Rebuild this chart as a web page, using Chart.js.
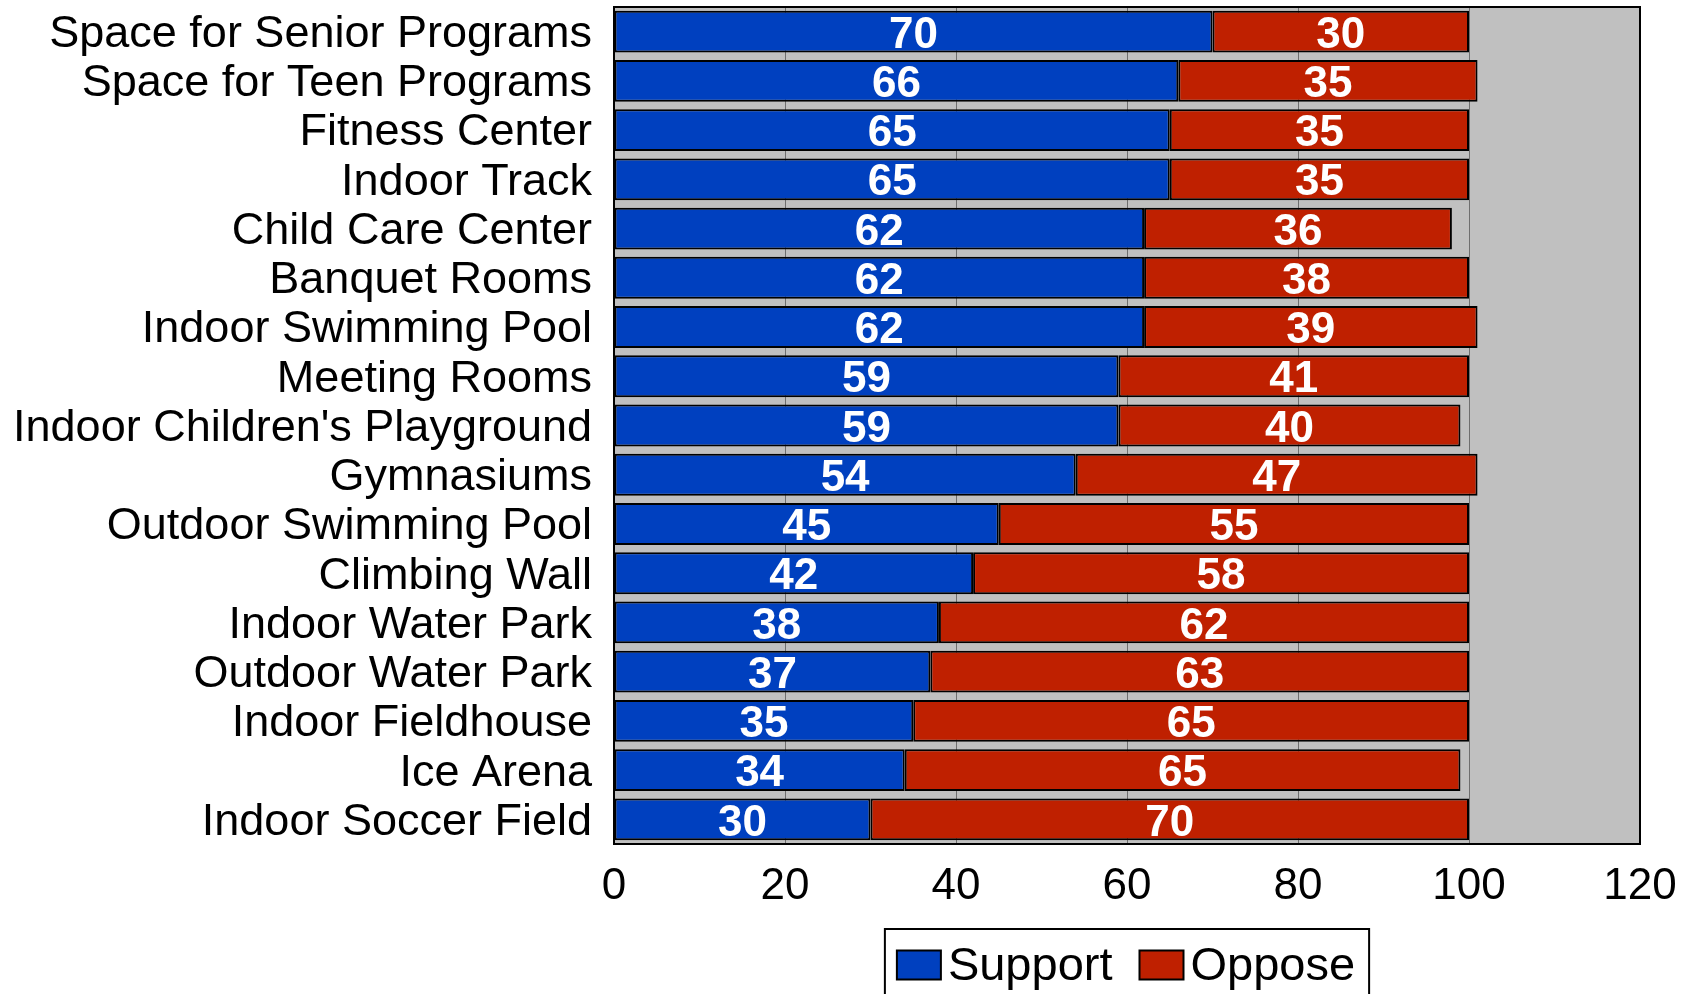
<!DOCTYPE html>
<html>
<head>
<meta charset="utf-8">
<script src="https://cdn.jsdelivr.net/npm/chart.js@4.4.1/dist/chart.umd.min.js"></script>
<style>
  html, body { margin: 0; padding: 0; background: #ffffff; }
  #wrap { width: 1696px; height: 994px; position: relative; }
</style>
</head>
<body>
<div id="wrap"><canvas id="c" width="1696" height="994"></canvas></div>
<script>
// Facility survey: share of respondents who support / oppose each facility
const categories = [
  "Space for Senior Programs",
  "Space for Teen Programs",
  "Fitness Center",
  "Indoor Track",
  "Child Care Center",
  "Banquet Rooms",
  "Indoor Swimming Pool",
  "Meeting Rooms",
  "Indoor Children's Playground",
  "Gymnasiums",
  "Outdoor Swimming Pool",
  "Climbing Wall",
  "Indoor Water Park",
  "Outdoor Water Park",
  "Indoor Fieldhouse",
  "Ice Arena",
  "Indoor Soccer Field"
];
const supportValues = [70, 66, 65, 65, 62, 62, 62, 59, 59, 54, 45, 42, 38, 37, 35, 34, 30];
const opposeValues  = [30, 35, 35, 35, 36, 38, 39, 41, 40, 47, 55, 58, 62, 63, 65, 65, 70];
const xTicks = [0, 20, 40, 60, 80, 100, 120];

const FONT = "'Liberation Sans', Arial, Helvetica, sans-serif";
const BLUE = "#0040BF";
const RED = "#BF2000";

// Grey plot background and black frame around the plotting area
const plotFrame = {
  id: 'plotFrame',
  beforeDraw(chart) {
    const a = chart.chartArea, ctx = chart.ctx;
    ctx.save();
    ctx.fillStyle = '#C0C0C0';
    ctx.fillRect(a.left, a.top, a.right - a.left, a.bottom - a.top);
    ctx.restore();
  },
  afterDraw(chart) {
    const a = chart.chartArea, ctx = chart.ctx;
    ctx.save();
    ctx.strokeStyle = '#000';
    ctx.lineWidth = 2;
    ctx.strokeRect(a.left, a.top, a.right - a.left, a.bottom - a.top);
    ctx.restore();
  }
};

// Value labels centred inside each bar segment
const segmentLabels = {
  id: 'segmentLabels',
  afterDatasetsDraw(chart) {
    const ctx = chart.ctx;
    ctx.save();
    ctx.fillStyle = '#fff';
    ctx.font = "bold 44px " + FONT;
    ctx.textAlign = 'center';
    ctx.textBaseline = 'middle';
    chart.data.datasets.forEach((ds, di) => {
      const meta = chart.getDatasetMeta(di);
      meta.data.forEach((bar, i) => {
        const p = bar.getProps(['x', 'y', 'base'], true);
        ctx.fillText(String(ds.data[i]), (p.x + p.base) / 2, p.y + 4);
      });
    });
    ctx.restore();
  }
};

// Boxed legend centred under the plotting area
const boxedLegend = {
  id: 'boxedLegend',
  afterDraw(chart) {
    const ctx = chart.ctx, a = chart.chartArea;
    ctx.save();
    ctx.font = "47px " + FONT;
    const sw = 44, sh = 29, swGap = 7, itemGap = 27, padL = 12, padR = 14;
    const items = chart.data.datasets.map(ds => ({ label: ds.label, color: ds.backgroundColor, w: ctx.measureText(ds.label).width }));
    let inner = 0;
    items.forEach((it, i) => { inner += sw + swGap + it.w + (i < items.length - 1 ? itemGap : 0); });
    const boxW = inner + padL + padR;
    const boxX = (a.left + a.right) / 2 - boxW / 2;
    const boxY = 929;
    ctx.strokeStyle = '#000';
    ctx.lineWidth = 2;
    ctx.strokeRect(boxX, boxY, boxW, 90);
    const cy = 965;
    let x = boxX + padL;
    ctx.textBaseline = 'middle';
    ctx.textAlign = 'left';
    items.forEach(it => {
      ctx.fillStyle = it.color;
      ctx.fillRect(x, cy - sh / 2, sw, sh);
      ctx.lineWidth = 2;
      ctx.strokeStyle = '#000';
      ctx.strokeRect(x, cy - sh / 2, sw, sh);
      x += sw + swGap;
      ctx.fillStyle = '#000';
      ctx.fillText(it.label, x, cy + 2);
      x += it.w + itemGap;
    });
    ctx.restore();
  }
};

new Chart(document.getElementById('c'), {
  type: 'bar',
  data: {
    labels: categories,
    datasets: [
      { label: 'Support', data: supportValues, backgroundColor: BLUE, borderColor: '#000', borderWidth: 2, borderSkipped: false },
      { label: 'Oppose', data: opposeValues, backgroundColor: RED, borderColor: '#000', borderWidth: 2, borderSkipped: false }
    ]
  },
  options: {
    indexAxis: 'y',
    responsive: false,
    animation: false,
    devicePixelRatio: 1,
    categoryPercentage: 1,
    barPercentage: 0.85,
    layout: { padding: { top: 7, right: 56, left: 0, bottom: 70 } },
    plugins: {
      legend: { display: false },
      tooltip: { enabled: false }
    },
    scales: {
      x: {
        stacked: true,
        min: 0,
        max: 120,
        afterBuildTicks(scale) { scale.ticks = xTicks.map(v => ({ value: v })); },
        afterFit(scale) { scale.height = 80; },
        grid: { color: '#6E6E6E', lineWidth: 1, drawTicks: false },
        border: { display: true, color: '#000', width: 2 },
        ticks: { color: '#000', font: { family: FONT, size: 44 }, padding: 16, maxRotation: 0, autoSkip: false }
      },
      y: {
        stacked: true,
        afterFit(scale) { scale.width = 614; scale.paddingTop = 0; scale.paddingBottom = 0; },
        grid: { display: false, drawTicks: false },
        border: { display: true, color: '#000', width: 2 },
        ticks: { color: '#000', font: { family: FONT, size: 45 }, padding: 22, labelOffset: 3, autoSkip: false }
      }
    }
  },
  plugins: [plotFrame, segmentLabels, boxedLegend]
});
</script>
</body>
</html>
